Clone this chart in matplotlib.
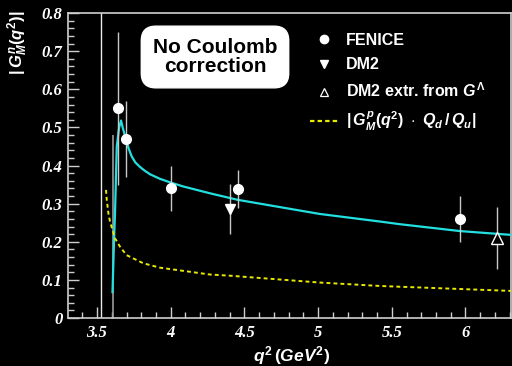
import matplotlib
matplotlib.use("Agg")
import matplotlib.pyplot as plt
from matplotlib.lines import Line2D
from matplotlib.ticker import MultipleLocator

plt.rcParams['mathtext.fontset'] = 'custom'
plt.rcParams['mathtext.rm'] = 'Liberation Sans:bold'
plt.rcParams['mathtext.it'] = 'Liberation Sans:italic:bold'
plt.rcParams['mathtext.bf'] = 'Liberation Sans:bold'

# ---- data ----
fenice_q2 = [3.640, 3.695, 4.000, 4.454, 5.963]
fenice_G = [0.550, 0.470, 0.340, 0.339, 0.259]
fenice_err = [0.200, 0.100, 0.060, 0.050, 0.060]

dm2_q2 = [4.404]
dm2_G = [0.286]
dm2_err = [0.065]

dm2x_q2 = [6.216]
dm2x_G = [0.209]
dm2x_err = [0.081]

low_q2 = [3.609]
low_lo = [0.0]
low_hi = [0.48]

threshold_q2 = 3.53

fit_q2 = [3.605, 3.615, 3.622, 3.634, 3.650, 3.663, 3.675, 3.694, 3.715, 3.735,
          3.760, 3.792, 3.825, 3.860, 3.927, 4.002, 4.085, 4.176, 4.267, 4.454,
          5.010, 5.420, 5.556, 5.963, 6.310]
fit_G = [0.068, 0.200, 0.275, 0.450, 0.500, 0.518, 0.498, 0.472, 0.444, 0.424,
         0.408, 0.396, 0.386, 0.377, 0.365, 0.355, 0.345, 0.336, 0.327, 0.310,
         0.273, 0.253, 0.246, 0.228, 0.218]

yel_q2 = [3.561, 3.566, 3.577, 3.588, 3.610, 3.622, 3.656, 3.700, 3.814, 3.927,
          4.267, 4.400, 5.010, 5.420, 5.556, 6.310]
yel_G = [0.336, 0.310, 0.275, 0.253, 0.225, 0.209, 0.187, 0.165, 0.1435, 0.132,
         0.114, 0.111, 0.093, 0.084, 0.082, 0.071]

xticks = [3.5, 4, 4.5, 5, 5.5, 6]
xticklabels = ["3.5", "4", "4.5", "5", "5.5", "6"]
yticks = [0, 0.1, 0.2, 0.3, 0.4, 0.5, 0.6, 0.7, 0.8]
yticklabels = ["0", "0.1", "0.2", "0.3", "0.4", "0.5", "0.6", "0.7", "0.8"]

# ---- figure ----
fig = plt.figure(figsize=(5.12, 3.66), dpi=100, facecolor='black')
ax = fig.add_axes([68/512, 48/366, 443/512, 305/366], facecolor='black')
ax.set_xlim(3.303, 6.309)
ax.set_ylim(0, 0.8)

frame_col = '#cfcfcf'
for s in ax.spines.values():
    s.set_color(frame_col)
    s.set_linewidth(1.2)

ax.axvline(threshold_q2, color='#e8e8e8', lw=1.0, zorder=1)
ax.vlines(low_q2, low_lo, low_hi, color='#9a9a9a', lw=1.2, zorder=2)

ax.plot(fit_q2, fit_G, color='#22e0e0', lw=1.6, zorder=3)
ax.plot(yel_q2, yel_G, color='#e8e800', lw=1.4, ls=(0, (2.0, 1.6)), zorder=3)

ax.errorbar(fenice_q2, fenice_G, yerr=fenice_err, fmt='o', color='white',
            ecolor='#c8c8c8', elinewidth=1.0, ms=7, capsize=0, zorder=4)
ax.errorbar(dm2_q2, dm2_G, yerr=dm2_err, fmt='v', color='white',
            ecolor='#c8c8c8', elinewidth=1.0, ms=7, capsize=0, zorder=4)
ax.errorbar(dm2x_q2, dm2x_G, yerr=dm2x_err, fmt='^', mfc='black', mec='white',
            ecolor='#c8c8c8', elinewidth=1.0, ms=8, mew=1.0, capsize=0, zorder=4)

ax.set_xticks(xticks)
ax.set_xticklabels(xticklabels)
ax.set_yticks(yticks)
ax.set_yticklabels(yticklabels)
ax.xaxis.set_minor_locator(MultipleLocator(0.1))
ax.yaxis.set_minor_locator(MultipleLocator(0.02))
ax.tick_params(which='both', direction='in', colors=frame_col, top=False, right=False)
ax.tick_params(which='major', length=8, width=1.0)
ax.tick_params(which='minor', length=4, width=1.0)
ax.tick_params(axis='y', which='major', pad=4)
ax.tick_params(axis='x', which='major', pad=5)
for lab in ax.get_xticklabels() + ax.get_yticklabels():
    lab.set_fontfamily('Liberation Serif')
    lab.set_fontweight('bold')
    lab.set_fontstyle('italic')
    lab.set_fontsize(12)
    lab.set_color('white')

# legend
handles = [
    Line2D([], [], ls='none', marker='o', color='white', ms=6),
    Line2D([], [], ls='none', marker='v', color='white', ms=6),
    Line2D([], [], ls='none', marker='^', mfc='black', mec='white', ms=6, mew=0.9),
    Line2D([], [], color='#e8e800', lw=1.6, ls=(0, (2.0, 1.4))),
]
labels = ["FENICE", "DM2", r"DM2 extr. from $G^{\Lambda}$",
          r"$|\,G^{p}_{M}(q^2)\ \cdot\ Q_d\,/\,Q_u|$"]
leg = ax.legend(handles, labels, loc='upper left', bbox_to_anchor=(310/512, 1 - 33/366),
                bbox_transform=fig.transFigure, frameon=False,
                prop={'family': 'Liberation Sans', 'weight': 'bold', 'size': 11.5},
                handlelength=1.75, handletextpad=0.5, labelspacing=0.58,
                borderpad=0, borderaxespad=0)
for t in leg.get_texts():
    t.set_color('white')

# box text
fig.text(215/512, 1 - 57/366, "No Coulomb\ncorrection", ha='center', va='center',
         family='Liberation Sans', weight='bold', size=15, color='black',
         linespacing=1.05,
         bbox=dict(boxstyle='round,pad=0.55,rounding_size=0.7', fc='white', ec='white'))

# axis labels
fig.text(18/512, 1 - 43/366, r"$|\,G^{n}_{M}(q^2)|$", rotation=90, ha='center', va='center',
         color='white', size=12)
fig.text(292/512, 1 - 356/366, r"$q^2\,(GeV^2)$", ha='center', va='center',
         color='white', size=12.5)

fig.savefig("out.png", dpi=100, facecolor='black')
